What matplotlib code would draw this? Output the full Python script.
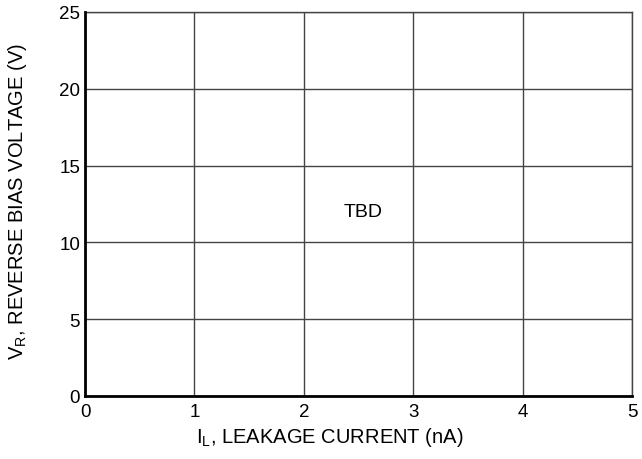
import matplotlib.pyplot as plt

plt.rcParams['font.family'] = ['Liberation Sans', 'DejaVu Sans']

x_ticks = [0, 1, 2, 3, 4, 5]
y_ticks = [0, 5, 10, 15, 20, 25]
note = "TBD"

fig = plt.figure(figsize=(6.42, 4.60), dpi=100)
ax = fig.add_axes([0.1324, 0.137, 0.852, 0.835])
ax.set_xlim(0, 5)
ax.set_ylim(0, 25)
ax.set_xticks(x_ticks)
ax.set_yticks(y_ticks)
ax.tick_params(length=0, labelsize=13.5, pad=5)
ax.tick_params(axis='y', pad=3.5)
ax.grid(True, color='#444444', linewidth=1.0)

for s in ['top', 'right']:
    ax.spines[s].set_color('#444444')
    ax.spines[s].set_linewidth(1.0)
for s in ['left', 'bottom']:
    ax.spines[s].set_color('black')
    ax.spines[s].set_linewidth(2.0)
    ax.spines[s].set_zorder(5)

ax.text(2.54, 12.0, note, ha='center', va='center', fontsize=14)
ax.set_xlabel(r'I$_\mathregular{L}$, LEAKAGE CURRENT (nA)', fontsize=14.5, labelpad=4, x=0.448)
ax.set_ylabel(r'V$_\mathregular{R}$, REVERSE BIAS VOLTAGE (V)', fontsize=14.5, labelpad=22, y=0.51)

fig.savefig('out.png', dpi=100)
